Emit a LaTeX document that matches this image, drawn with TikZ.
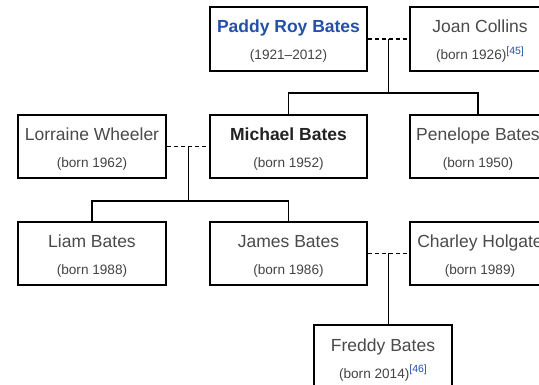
\documentclass[tikz,border=0pt]{standalone}
\usepackage{fontspec}
\setmainfont{Liberation Sans}
\usetikzlibrary{calc}
\definecolor{linkblue}{HTML}{2450A8}
\definecolor{nametext}{HTML}{4A4A4A}
\definecolor{boldtext}{HTML}{222222}
\definecolor{datetext}{HTML}{444444}
\newcommand{\namesize}{\fontsize{17.5}{20}\selectfont}
\newcommand{\datesize}{\fontsize{13.6}{16}\selectfont}
\newcommand{\refmark}[1]{{\fontsize{10.5}{12}\selectfont\color{linkblue}\raisebox{5.5pt}{[#1]}}}
\tikzset{
  person/.style={draw=black, line width=2.4pt, fill=white, minimum height=63.5pt, inner sep=0pt},
  nametxt/.style={anchor=base, inner sep=0pt, font=\namesize, text=nametext},
  datetxt/.style={anchor=base, inner sep=0pt, font=\datesize, text=datetext},
  link/.style={draw=black, line width=1.2pt},
  marriage/.style={draw=black, line width=1.2pt, dash pattern=on 4pt off 3pt}
}
\begin{document}
\begin{tikzpicture}[x=1pt,y=-1pt]
\useasboundingbox[fill=white] (0,0) rectangle (539,385);
% row 1
\node[person, minimum width=156.5pt] (pb) at (288.5,39) {};
\node[person, minimum width=140pt] (jc) at (480,39) {};
% row 2
\node[person, minimum width=148pt] (lw) at (92,146.5) {};
\node[person, minimum width=156.5pt] (mb) at (288.5,146.5) {};
\node[person, minimum width=136pt] (pe) at (478,146.5) {};
% row 3
\node[person, minimum width=148pt] (lb) at (92,253.5) {};
\node[person, minimum width=156.5pt] (jb) at (288.5,253.5) {};
\node[person, minimum width=140pt] (ch) at (480,253.5) {};
% row 4
\node[person, minimum width=138pt] (fb) at (383,357) {};

% texts
\node[nametxt, text=linkblue, font=\namesize\bfseries] (pbn) at ([yshift=6pt]pb.center) {Paddy Roy Bates};
\node[datetxt] (pbd) at ([yshift=-21pt]pb.center) {(1921–2012)};
\node[nametxt] (jcn) at ([yshift=6pt]jc.center) {Joan Collins};
\node[datetxt] (jcd) at ([yshift=-21pt]jc.center) {(born 1926)\refmark{45}};

\node[nametxt] (lwn) at ([yshift=6pt]lw.center) {Lorraine Wheeler};
\node[datetxt] (lwd) at ([yshift=-21pt]lw.center) {(born 1962)};
\node[nametxt, text=boldtext, font=\namesize\bfseries] (mbn) at ([yshift=6pt]mb.center) {Michael Bates};
\node[datetxt] (mbd) at ([yshift=-21pt]mb.center) {(born 1952)};
\node[nametxt] (pen) at ([yshift=6pt]pe.center) {Penelope Bates};
\node[datetxt] (ped) at ([yshift=-21pt]pe.center) {(born 1950)};

\node[nametxt] (lbn) at ([yshift=6pt]lb.center) {Liam Bates};
\node[datetxt] (lbd) at ([yshift=-21pt]lb.center) {(born 1988)};
\node[nametxt] (jbn) at ([yshift=6pt]jb.center) {James Bates};
\node[datetxt] (jbd) at ([yshift=-21pt]jb.center) {(born 1986)};
\node[nametxt] (chn) at ([yshift=6pt]ch.center) {Charley Holgate};
\node[datetxt] (chd) at ([yshift=-21pt]ch.center) {(born 1989)};

\node[nametxt] (fbn) at ([yshift=-1pt]fb.north |- 0,351) {Freddy Bates};
\node[datetxt] (fbd) at (fb.north |- 0,378) {(born 2014)\refmark{46}};

% connectors
\coordinate (bar1) at (0,93);
\coordinate (bar2) at (0,201);
\coordinate (m1) at ($(pb.east)!0.5!(jc.west)$);
\coordinate (m2) at ($(lw.east)!0.5!(mb.west)$);
\coordinate (m3) at ($(jb.east)!0.5!(ch.west)$);

\draw[marriage] (pb.east) -- (jc.west);
\draw[link] (m1) -- (m1 |- bar1);
\draw[link] (mb.north) |- (bar1 -| pe.north) -- (pe.north);

\draw[marriage] (lw.east) -- (mb.west);
\draw[link] (m2) -- (m2 |- bar2);
\draw[link] (lb.north) |- (bar2 -| jb.north) -- (jb.north);

\draw[marriage] (jb.east) -- (ch.west);
\draw[link] (m3) -- (m3 |- fb.north);
\end{tikzpicture}
\end{document}
